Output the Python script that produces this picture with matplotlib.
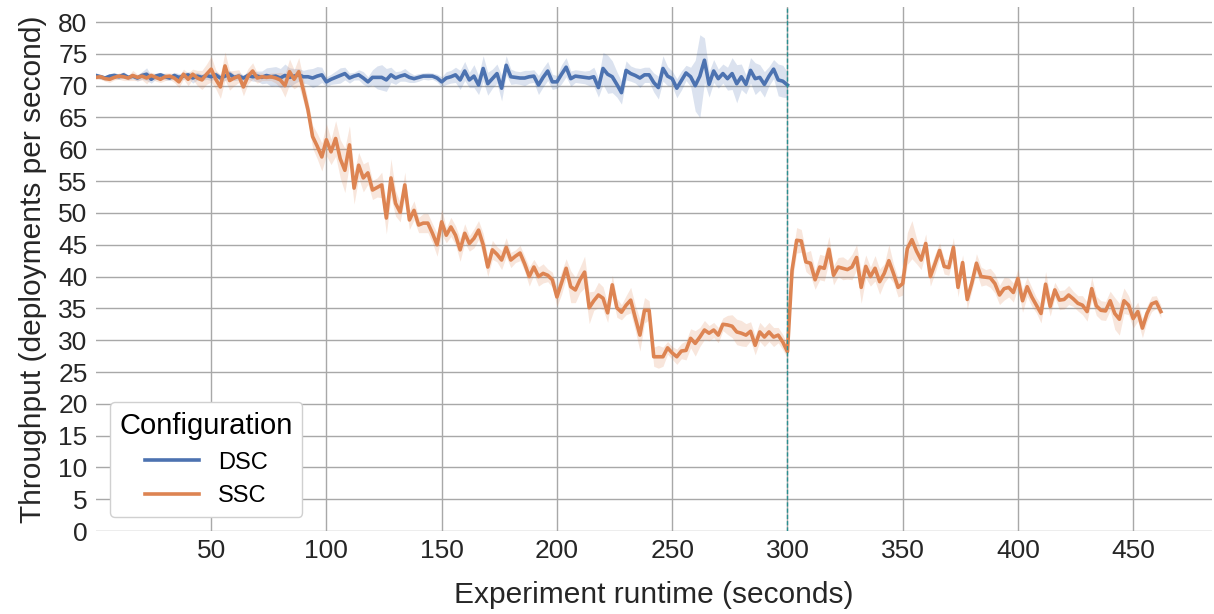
"""
Throughput of the two configurations over the experiment runtime.
"""

import numpy as np
import matplotlib
matplotlib.use("Agg")
import matplotlib.pyplot as plt

plt.rcParams["font.family"] = ["Liberation Sans", "DejaVu Sans"]

# Time axis (seconds), one sample every 2 s
ssc_time = list(range(0, 463, 2))
dsc_time = list(range(0, 301, 2))

# Mean throughput (deployments per second)
dsc_mean = [
    71.6, 71.4, 71.2, 71.5, 71.6, 71.4, 71.7, 71.3, 71.5, 71.2,
    71.6, 71.8, 71.0, 71.5, 71.7, 71.4, 71.2, 71.6, 71.3, 71.5,
    71.7, 71.2, 71.5, 71.3, 71.6, 71.4, 71.7, 71.2, 71.5, 71.8,
    71.3, 71.5, 71.2, 71.6, 71.4, 71.5, 71.3, 71.6, 71.4, 71.5,
    71.2, 71.6, 71.3, 71.5, 71.7, 71.4, 71.4, 71.2, 71.5, 71.7,
    70.6, 71.0, 71.3, 71.6, 71.9, 71.2, 71.5, 71.7, 71.2, 70.6,
    71.3, 71.3, 71.3, 70.9, 71.7, 71.2, 71.5, 71.7, 71.3, 71.1,
    71.3, 71.5, 71.5, 71.5, 71.2, 70.6, 71.2, 71.4, 71.7, 70.9,
    72.3, 70.9, 71.5, 70.1, 72.7, 70.3, 71.1, 71.9, 69.6, 73.2,
    71.4, 71.3, 71.2, 71.2, 71.4, 71.5, 70.1, 71.3, 72.3, 70.6,
    70.6, 71.8, 72.9, 71.1, 71.5, 71.4, 71.3, 71.2, 71.4, 69.7,
    72.7, 71.8, 71.4, 70.2, 68.9, 72.4, 71.9, 71.6, 71.2, 71.7,
    71.7, 70.5, 69.7, 72.7, 71.5, 71.1, 69.6, 70.8, 72.0, 71.4,
    70.0, 71.5, 74.0, 70.2, 72.3, 71.1, 71.9, 71.1, 71.9, 70.3,
    71.4, 70.2, 72.4, 71.1, 71.3, 70.2, 71.5, 72.6, 70.9, 70.7,
    70.1,
]
ssc_mean = [
    71.3, 71.4, 71.1, 71.0, 71.3, 71.5, 71.4, 71.2, 71.6, 71.3,
    71.5, 71.2, 71.6, 71.3, 71.0, 71.4, 71.5, 71.2, 70.6, 71.8,
    71.0, 71.8, 71.2, 70.9, 71.8, 72.6, 71.0, 69.8, 73.1, 70.8,
    71.2, 71.5, 69.8, 71.5, 72.3, 71.2, 71.4, 71.3, 71.4, 71.2,
    70.9, 70.0, 72.2, 71.0, 72.2, 69.3, 66.2, 62.0, 60.5, 58.8,
    61.5, 59.6, 61.7, 58.5, 56.7, 60.7, 53.9, 57.5, 55.5, 56.3,
    53.6, 54.0, 54.4, 49.2, 55.5, 51.5, 50.1, 54.4, 48.9, 50.4,
    48.1, 48.4, 48.4, 46.8, 45.0, 48.6, 46.5, 47.8, 46.5, 44.2,
    46.8, 45.2, 46.0, 47.3, 45.0, 41.5, 44.2, 43.5, 42.6, 44.6,
    42.6, 43.2, 43.7, 42.0, 40.0, 41.5, 40.0, 40.5, 40.2, 39.5,
    36.8, 39.0, 41.3, 38.4, 37.9, 39.5, 40.7, 35.1, 36.2, 37.1,
    36.6, 34.3, 38.7, 35.1, 34.4, 35.5, 36.3, 33.5, 30.8, 34.7,
    34.7, 27.4, 27.4, 27.4, 28.8, 28.0, 27.4, 28.3, 28.4, 30.3,
    29.5, 30.5, 31.6, 31.1, 31.6, 30.8, 32.5, 32.4, 32.2, 31.3,
    31.1, 30.8, 31.4, 29.2, 31.3, 30.5, 31.3, 30.5, 30.8, 29.7,
    28.2, 41.0, 45.7, 45.6, 42.3, 42.1, 39.5, 41.5, 41.3, 44.3,
    40.2, 41.5, 41.3, 41.1, 41.5, 43.0, 38.3, 41.6, 40.0, 41.3,
    39.2, 40.5, 42.5, 40.5, 38.3, 38.9, 44.4, 45.8, 44.0, 42.6,
    45.2, 40.0, 42.0, 44.1, 41.6, 41.4, 44.6, 38.3, 42.2, 36.4,
    39.0, 42.1, 40.0, 39.9, 39.8, 38.9, 37.1, 38.1, 38.3, 37.5,
    39.7, 36.2, 38.4, 36.8, 35.5, 34.2, 38.8, 35.3, 37.9, 36.3,
    36.4, 37.1, 36.5, 35.8, 35.5, 34.5, 38.1, 35.4, 34.7, 34.6,
    36.2, 34.2, 33.3, 36.2, 35.5, 33.4, 34.5, 31.9, 34.2, 35.7,
    36.0, 34.5,
]

# Half width of the confidence band around each mean
dsc_ci = [
    0.4, 0.4, 0.3, 0.4, 0.5, 0.4, 0.5, 0.4, 0.4, 0.5,
    0.6, 1.0, 0.6, 0.5, 0.4, 0.5, 0.4, 0.5, 0.6, 0.5,
    0.5, 0.8, 0.6, 0.5, 0.6, 0.6, 0.5, 0.6, 0.7, 0.6,
    0.5, 0.6, 0.5, 0.6, 0.7, 0.8, 1.0, 1.2, 1.5, 1.5,
    1.5, 1.8, 1.5, 1.2, 1.0, 1.0, 1.2, 1.5, 1.5, 1.2,
    0.8, 0.8, 1.0, 1.2, 1.0, 0.8, 0.6, 0.8, 1.0, 0.8,
    1.2, 1.8, 2.0, 1.8, 1.2, 1.0, 0.8, 1.0, 0.8, 0.6,
    0.6, 0.5, 0.6, 0.5, 0.6, 0.8, 1.0, 1.0, 1.2, 1.5,
    1.5, 1.2, 1.8, 1.5, 2.0, 1.8, 1.5, 1.5, 2.0, 1.5,
    1.2, 1.0, 1.0, 1.2, 1.0, 1.0, 1.5, 1.5, 1.5, 1.2,
    1.0, 1.5, 1.5, 1.2, 1.0, 1.0, 1.0, 1.2, 1.5, 1.5,
    2.5, 3.0, 2.5, 2.0, 1.8, 1.5, 1.2, 1.2, 1.5, 1.2,
    1.2, 1.5, 1.8, 2.0, 1.5, 1.2, 1.5, 1.5, 1.2, 1.5,
    4.0, 6.5, 3.5, 2.0, 1.8, 1.5, 1.5, 1.8, 2.5, 3.0,
    2.0, 1.5, 2.0, 2.5, 2.0, 2.0, 1.5, 1.5, 2.5, 2.5,
    2.0,
]
ssc_ci = [
    0.3, 0.4, 0.4, 0.5, 0.4, 0.5, 0.6, 0.4, 0.8, 0.5,
    0.6, 0.9, 0.5, 0.6, 0.5, 0.6, 0.5, 0.7, 0.9, 0.8,
    1.0, 0.8, 1.2, 1.5, 1.6, 2.0, 1.5, 1.8, 2.2, 1.5,
    1.2, 1.0, 1.4, 1.2, 1.3, 0.8, 0.6, 0.5, 0.6, 0.8,
    1.2, 1.8, 2.0, 1.5, 2.2, 1.8, 1.5, 1.8, 2.0, 2.2,
    2.5, 2.0, 2.8, 3.0, 3.5, 3.0, 2.5, 2.0, 2.2, 1.8,
    1.5, 1.5, 2.0, 2.5, 3.0, 2.0, 1.5, 2.0, 1.5, 1.5,
    1.2, 1.5, 1.5, 1.5, 1.8, 2.0, 1.2, 1.5, 1.5, 1.8,
    1.5, 1.2, 1.5, 1.5, 1.8, 1.5, 1.5, 1.2, 1.5, 1.5,
    1.2, 1.0, 1.2, 1.2, 1.5, 1.2, 1.5, 1.5, 1.0, 1.2,
    1.5, 1.8, 1.5, 2.5, 2.0, 2.0, 2.5, 2.5, 1.5, 2.0,
    1.8, 1.5, 1.5, 1.5, 1.2, 1.5, 2.0, 2.0, 2.5, 2.0,
    1.5, 1.5, 1.8, 1.5, 1.0, 1.0, 1.2, 1.2, 1.5, 1.5,
    2.0, 1.5, 1.5, 1.2, 1.2, 1.2, 1.0, 1.5, 1.8, 2.0,
    2.0, 1.8, 1.5, 1.5, 1.5, 1.5, 1.5, 1.5, 1.2, 1.2,
    1.0, 2.0, 2.0, 1.8, 1.5, 2.0, 1.5, 2.0, 2.0, 2.0,
    1.5, 1.5, 1.8, 1.5, 2.0, 2.0, 2.5, 1.8, 1.5, 2.0,
    2.0, 1.5, 2.5, 1.5, 1.5, 1.8, 2.5, 3.0, 2.0, 1.5,
    1.5, 1.5, 1.5, 1.2, 1.2, 1.2, 1.5, 1.5, 1.2, 1.5,
    1.2, 1.5, 1.5, 1.2, 1.5, 1.5, 1.5, 1.8, 1.5, 1.5,
    1.5, 1.8, 1.5, 1.5, 1.2, 1.5, 2.0, 1.5, 1.2, 1.5,
    1.5, 1.5, 1.2, 1.2, 1.5, 1.5, 1.8, 1.5, 1.5, 1.5,
    1.5, 2.5, 2.5, 2.0, 1.5, 1.5, 1.5, 1.5, 1.2, 1.2,
    1.0, 1.0,
]

series = [
    ("DSC", dsc_time, dsc_mean, dsc_ci, "#4c72b0"),
    ("SSC", ssc_time, ssc_mean, ssc_ci, "#dd8452"),
]
x_ticks = [50, 100, 150, 200, 250, 300, 350, 400, 450]
y_ticks = list(range(0, 81, 5))

fig = plt.figure(figsize=(12.14, 6.14), dpi=100)
ax = fig.add_axes([0.079, 0.135, 0.919, 0.854])

for name, t, m, ci, color in series:
    t = np.array(t)
    m = np.array(m)
    ci = np.array(ci)
    ax.fill_between(t, m - ci, m + ci, color=color, alpha=0.2, linewidth=0)
    ax.plot(t, m, color=color, linewidth=2.6, label=name)

# Marker for the end of the DSC run
ax.axvline(x=300, color="#2a9090", linestyle="--", linewidth=1.0, dashes=(3, 1.5))

ax.set_xlim(0, 484)
ax.set_ylim(0, 82.4)
ax.set_xticks(x_ticks)
ax.set_yticks(y_ticks)
ax.tick_params(axis="both", labelsize=19, length=0, pad=6, colors="#262626")
ax.grid(True, color="#a8a8a8", linewidth=1.0)
ax.set_axisbelow(True)
for s in ax.spines.values():
    s.set_visible(False)

ax.set_xlabel("Experiment runtime (seconds)", fontsize=21.5, labelpad=13, color="#262626")
ax.set_ylabel("Throughput (deployments per second)", fontsize=21.5, labelpad=8, color="#262626")

leg = ax.legend(title="Configuration", loc="lower left", fontsize=17,
                title_fontsize=21, handlelength=2.3, frameon=True,
                borderaxespad=0.6)
leg.get_frame().set_edgecolor("#d0d0d0")
leg.get_frame().set_alpha(1.0)
for line in leg.get_lines():
    line.set_linewidth(2.6)

plt.savefig("out.png", dpi=100)
